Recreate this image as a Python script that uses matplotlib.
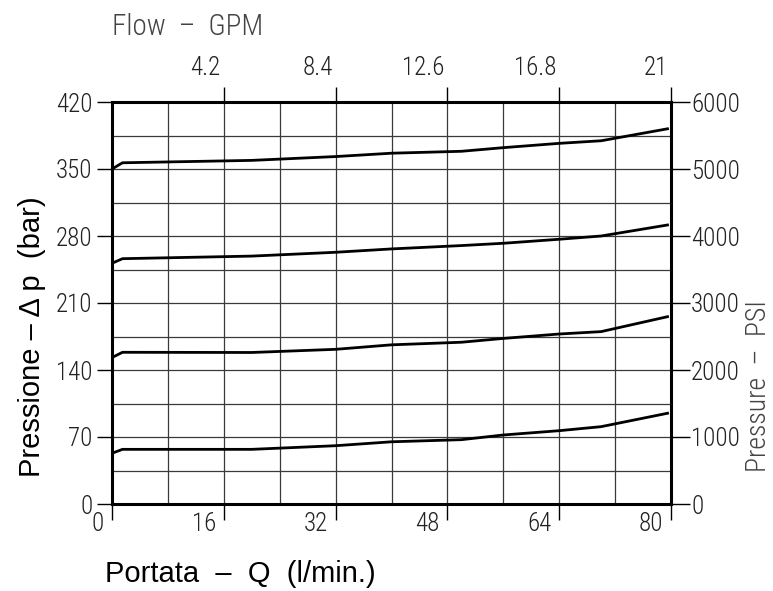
import matplotlib.pyplot as plt
import numpy as np
from matplotlib.transforms import ScaledTranslation
from matplotlib.ticker import MultipleLocator

# flow (l/min) and pressure drop (bar)
flow = [0, 1.5, 20, 32, 40, 50, 56, 64, 70, 79.5]
p_350 = [350, 356.5, 359, 363, 366.5, 368.5, 372.3, 376.8, 379.5, 392]
p_250 = [251.5, 256.3, 259, 263, 266.5, 270, 272.4, 276.6, 280, 291.5]
p_150 = [153, 158.5, 158.3, 161.6, 166.3, 169, 173, 177.6, 180.1, 195.7]
p_50 = [53, 57.1, 57.1, 60.9, 65, 67.2, 72.1, 76.6, 80.8, 94.8]

x_ticks = [0, 16, 32, 48, 64, 80]
gpm_ticks = [16, 32, 48, 64, 80]
gpm_labels = ['4.2', '8.4', '12.6', '16.8', '21']
bar_ticks = [0, 70, 140, 210, 280, 350, 420]
psi_ticks = [0, 1000, 2000, 3000, 4000, 5000, 6000]

narrow = ['Roboto Condensed', 'Archivo Narrow', 'DejaVu Sans']
plain = ['Liberation Sans', 'DejaVu Sans']
tick_fs = 18

fig = plt.figure(figsize=(7.73, 5.91), dpi=100)
ax = fig.add_axes([112/773, 87/591, 559/773, 402/591])

for p in (p_350, p_250, p_150, p_50):
    ax.plot(flow, p, color='black', lw=2.0, solid_joinstyle='miter', zorder=3)

ax.set_xlim(0, 80)
ax.set_ylim(0, 420)
ax.set_xticks(x_ticks)
ax.set_yticks(bar_ticks)
ax.xaxis.set_minor_locator(MultipleLocator(8))
ax.yaxis.set_minor_locator(MultipleLocator(35))
ax.grid(True, which='both', color='#3a3a3a', lw=0.9)
ax.tick_params(which='minor', length=0)
ax.tick_params(axis='x', which='major', direction='out', length=11.5, width=1.0,
               pad=-6, labelsize=tick_fs, labelcolor='#222')
ax.tick_params(axis='y', which='major', direction='out', length=11, width=1.0,
               pad=3, labelsize=tick_fs, labelcolor='#222')
for s in ax.spines.values():
    s.set_linewidth(2.2)

# tick labels sit to the left of the bottom ticks
off = ScaledTranslation(-8/100, 0, fig.dpi_scale_trans)
for lab in ax.get_xticklabels():
    lab.set_horizontalalignment('right')
    lab.set_transform(lab.get_transform() + off)
    lab.set_family(narrow)
    lab.set_fontweight('light')
for lab in ax.get_yticklabels():
    lab.set_family(narrow)
    lab.set_fontweight('light')

# right axis in PSI
ax2 = ax.twinx()
ax2.set_ylim(0, 6000)
ax2.set_yticks(psi_ticks)
ax2.tick_params(axis='y', direction='out', length=14, width=1.0, pad=0.5,
                labelsize=tick_fs, labelcolor='#222')
for lab in ax2.get_yticklabels():
    lab.set_family(narrow)
    lab.set_fontweight('light')
for s in ax2.spines.values():
    s.set_visible(False)

# top axis in GPM
ax3 = ax.twiny()
ax3.set_xlim(0, 80)
ax3.set_xticks(gpm_ticks)
ax3.set_xticklabels(gpm_labels)
ax3.tick_params(axis='x', direction='out', length=11, width=1.0, pad=5,
                labelsize=tick_fs, labelcolor='#222')
off_top = ScaledTranslation(-3/100, 0, fig.dpi_scale_trans)
for lab in ax3.get_xticklabels():
    lab.set_horizontalalignment('right')
    lab.set_transform(lab.get_transform() + off_top)
    lab.set_family(narrow)
    lab.set_fontweight('light')
for s in ax3.spines.values():
    s.set_visible(False)

fig.text(105/773, 1 - 574/591, 'Portata  –  Q  (l/min.)', fontsize=21,
         family=plain, ha='left', va='center', color='black')
fig.text(32/773, 1 - 337/591, 'Pressione – Δ p  (bar)', fontsize=21,
         family=plain, rotation=90, ha='center', va='center', color='black')
fig.text(112/773, 1 - 27/591, 'Flow  –  GPM', fontsize=21, family=narrow,
         fontweight='light', ha='left', va='center', color='#444')
fig.text(759/773, 1 - 386/591, 'Pressure  –  PSI', fontsize=20, family=narrow,
         fontweight='light', rotation=90, ha='center', va='center', color='#444')

fig.savefig('out.png', dpi=100)
